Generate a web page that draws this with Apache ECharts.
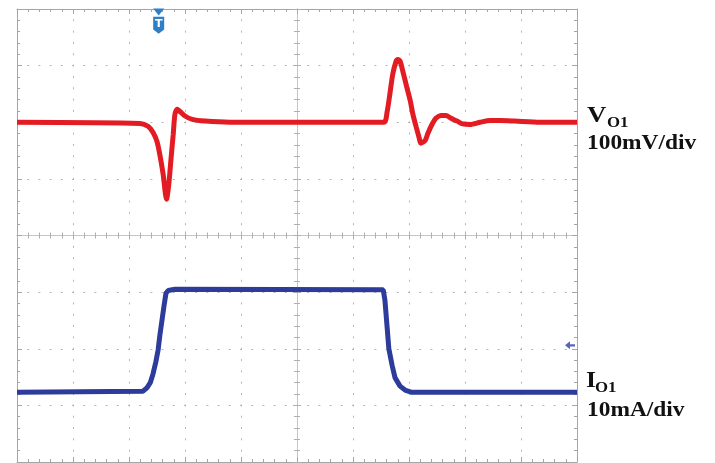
<!DOCTYPE html>
<html>
<head>
<meta charset="utf-8">
<script src="https://cdn.jsdelivr.net/npm/echarts@6/dist/echarts.min.js"></script>
<style>html,body{margin:0;padding:0;background:#fff}#c{width:715px;height:463px}</style>
</head>
<body>
<div id="c"></div>
<script>
// Time axis in divisions (10 div across the screen)
var vTime = [0, 2.20, 2.34, 2.43, 2.50, 2.55, 2.61, 2.67, 2.71, 2.75, 2.79, 2.82, 2.86, 2.91, 3.00, 3.13, 3.36, 3.80, 5.05,
  6.55, 6.61, 6.66, 6.71, 6.77, 6.80, 6.84, 6.89, 6.96, 7.02, 7.07, 7.13, 7.18, 7.21, 7.29, 7.34, 7.41, 7.48, 7.57, 7.66,
  7.75, 7.86, 7.96, 8.09, 8.27, 8.45, 8.63, 8.89, 9.34, 10];
// V_O1 deviation from its DC level, mV (100 mV/div)
var vO1 = [0, -2, -7, -18, -34, -57, -92, -136, -110, -65, -21, 14, 23, 19, 11, 5, 2, 0, 0,
  0, 19, 51, 85, 108, 111, 108, 90, 62, 39, 14, -9, -27, -37, -32, -19, -4, 7, 12, 12,
  7, 2, -3, -4, 0, 3, 3, 2, 0, 0];

var iTime = [0, 2.25, 2.32, 2.38, 2.43, 2.48, 2.52, 2.55, 2.59, 2.63, 2.66, 2.70, 2.82, 6.54,
  6.57, 6.61, 6.64, 6.70, 6.75, 6.84, 6.93, 7.05, 10];
// I_O1 relative to its low level, mA (10 mA/div)
var iO1 = [0, 0.2, 0.8, 1.7, 3.3, 5.4, 7.5, 10.0, 12.8, 15.6, 17.5, 18.0, 18.2, 18.1,
  16.3, 11.4, 7.7, 4.7, 2.6, 1.1, 0.4, 0, 0];

var triggerTime = 2.53;
var levelMarker = [9.875, 8.3];

function pairs(xs, ys) { return xs.map(function (x, k) { return [x, ys[k]]; }); }

var gridCol = '#b5b5b5';
var borderCol = '#a5a5a5';
var dotsV = { color: gridCol, width: 1, type: [2, 9.325], dashOffset: 1 };
var dotsH = { color: gridCol, width: 1, type: [2, 9.2], dashOffset: 1 };

function deco(extra) {
  var base = {
    type: 'value', axisLabel: { show: false }, splitLine: { show: false },
    axisLine: { show: true, onZero: false, lineStyle: { color: borderCol, width: 1 } },
    axisTick: { show: true, inside: true, length: 5, lineStyle: { color: borderCol } },
    minorTick: { show: true, splitNumber: 5, length: 3, lineStyle: { color: borderCol } }
  };
  for (var k in extra) base[k] = extra[k];
  return base;
}

var centerLine = { show: true, onZero: false, lineStyle: { color: '#c2c2c2', width: 1, type: [1, 1] } };
var cTick = function (inside) {
  return {
    axisTick: { show: true, inside: inside, length: 4, lineStyle: { color: '#b0b0b0' } },
    minorTick: { show: true, splitNumber: 5, length: 3, lineStyle: { color: '#b0b0b0' } }
  };
};
function merge(a, b) { for (var k in b) a[k] = b[k]; return a; }

var option = {
  backgroundColor: '#ffffff',
  animation: false,
  grid: { left: 17, top: 9, width: 560, height: 453, containLabel: false },
  xAxis: [
    deco({ min: 0, max: 10, interval: 1, position: 'bottom', splitLine: { show: true, lineStyle: dotsV } }),
    deco({ min: 0, max: 10, interval: 1, position: 'top' }),
    deco(merge({ min: 0, max: 10, interval: 1, position: 'bottom', offset: -226.5, axisLine: centerLine }, cTick(true))),
    deco(merge({ min: 0, max: 10, interval: 1, position: 'bottom', offset: -226.5, axisLine: centerLine }, cTick(false)))
  ],
  yAxis: [
    deco({ min: -600, max: 200, interval: 100, position: 'left', splitLine: { show: true, lineStyle: dotsH } }),
    { type: 'value', show: false, min: -12.3, max: 67.7 },
    deco({ min: 0, max: 8, interval: 1, position: 'right' }),
    deco(merge({ min: 0, max: 8, interval: 1, position: 'left', offset: -280, axisLine: centerLine }, cTick(true))),
    deco(merge({ min: 0, max: 8, interval: 1, position: 'left', offset: -280, axisLine: centerLine }, cTick(false)))
  ],
  series: [
    {
      name: 'VO1', type: 'line', xAxisIndex: 0, yAxisIndex: 0, data: pairs(vTime, vO1),
      showSymbol: false, smooth: 0.25, z: 5,
      lineStyle: { color: '#e31b23', width: 5 },
      markPoint: {
        silent: true, animation: false,
        data: [
          { coord: [triggerTime, 194.5], symbol: 'triangle', symbolRotate: 180, symbolSize: [11, 7],
            itemStyle: { color: '#2f7fc6' }, label: { show: false } },
          { coord: [triggerTime, 171.5], symbol: 'path://M0,0 L10,0 L10,12 L5,16 L0,12 Z', symbolSize: [11, 17],
            itemStyle: { color: '#2f7fc6' },
            label: { show: true, formatter: 'T', color: '#ffffff', fontWeight: 'bold', fontSize: 11,
              fontFamily: 'DejaVu Sans', position: 'inside', offset: [0, -1] } }
        ]
      }
    },
    {
      name: 'IO1', type: 'line', xAxisIndex: 0, yAxisIndex: 1, data: pairs(iTime, iO1),
      showSymbol: false, z: 5,
      lineStyle: { color: '#2d3b9b', width: 5 },
      markPoint: {
        silent: true, animation: false,
        data: [
          { coord: levelMarker, symbol: 'path://M0,4 L5,0 L5,2.8 L10,2.8 L10,5.2 L5,5.2 L5,8 Z',
            symbolSize: [10, 8], itemStyle: { color: '#5865bd' }, label: { show: false } }
        ]
      }
    }
  ],
  graphic: [
    { type: 'text', x: 587, y: 115.8, scaleX: 1.12,
      style: { text: 'V', fill: '#111', font: 'bold 24px "Liberation Serif"', verticalAlign: 'middle', align: 'left' } },
    { type: 'text', x: 607, y: 123.5, scaleX: 1.12,
      style: { text: 'O1', fill: '#111', font: 'bold 15px "Liberation Serif"', verticalAlign: 'middle', align: 'left' } },
    { type: 'text', x: 587, y: 144, scaleX: 1.17,
      style: { text: '100mV/div', fill: '#111', font: 'bold 20px "Liberation Serif"', verticalAlign: 'middle', align: 'left' } },
    { type: 'text', x: 586, y: 381, scaleX: 1.12,
      style: { text: 'I', fill: '#111', font: 'bold 23px "Liberation Serif"', verticalAlign: 'middle', align: 'left' } },
    { type: 'text', x: 595, y: 388.5, scaleX: 1.12,
      style: { text: 'O1', fill: '#111', font: 'bold 15px "Liberation Serif"', verticalAlign: 'middle', align: 'left' } },
    { type: 'text', x: 587, y: 411, scaleX: 1.17,
      style: { text: '10mA/div', fill: '#111', font: 'bold 20px "Liberation Serif"', verticalAlign: 'middle', align: 'left' } }
  ]
};

var chart = echarts.init(document.getElementById('c'), null, { renderer: 'canvas' });
chart.setOption(option);
</script>
</body>
</html>
